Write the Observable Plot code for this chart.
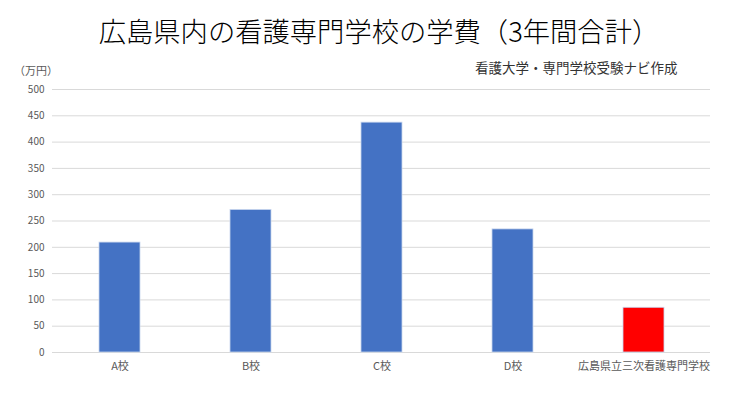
<!DOCTYPE html>
<html><head><meta charset="utf-8">
<script src="https://cdn.jsdelivr.net/npm/d3@7"></script>
<script src="https://cdn.jsdelivr.net/npm/@observablehq/plot@0.6"></script>
<style>
body{margin:0;background:#fff;font-family:"Noto Sans CJK JP","Noto Sans",sans-serif;}
#wrap{position:relative;width:730px;height:411px;overflow:hidden;}
.t{position:absolute;white-space:nowrap;}
#title{left:0;width:758px;text-align:center;top:17px;font-size:27.3px;color:#000;line-height:1;font-weight:300;}
#sub{left:475px;top:61px;font-size:13.5px;color:#333;line-height:1;}
#unit{left:14px;top:65px;font-size:11px;color:#595959;line-height:1;}
#chart{position:absolute;left:0;top:0;}
</style></head>
<body><div id="wrap">
<div id="chart"></div>
<div class="t" id="title">広島県内の看護専門学校の学費（3年間合計）</div>
<div class="t" id="sub">看護大学・専門学校受験ナビ作成</div>
<div class="t" id="unit">（万円）</div>
</div>
<script>
const schools = ["A校","B校","C校","D校","広島県立三次看護専門学校"];
const fees = [209, 271, 437, 234, 85];
const barColors = ["#4472C4","#4472C4","#4472C4","#4472C4","#FF0000"];
const yTicks = [0,50,100,150,200,250,300,350,400,450,500];

const data = schools.map((s,i)=>({school:s, fee:fees[i], color:barColors[i]}));

const chart = Plot.plot({
  width:730, height:411,
  marginTop:89, marginBottom:59, marginLeft:52, marginRight:20,
  style:{fontFamily:'"Noto Sans CJK JP","Noto Sans",sans-serif', background:"transparent"},
  x:{domain:schools, paddingInner:0.69, paddingOuter:0.345, label:null, tickSize:0, tickPadding:10},
  y:{domain:[0,500], ticks:yTicks, label:null, tickSize:0, tickPadding:8},
  marks:[
    Plot.gridY(yTicks, {stroke:"#d9d9d9", strokeOpacity:1}),
    Plot.barY(data, {x:"school", y:"fee", fill:"color", stroke:"#c9d6ee", strokeWidth:0.8}),
    Plot.axisX({tickSize:0, tickPadding:10, fontSize:11, color:"#595959"}),
    Plot.axisY({ticks:yTicks, tickSize:0, tickPadding:8, fontSize:10, color:"#595959"})
  ]
});
document.getElementById("chart").appendChild(chart);
</script>
</body></html>
